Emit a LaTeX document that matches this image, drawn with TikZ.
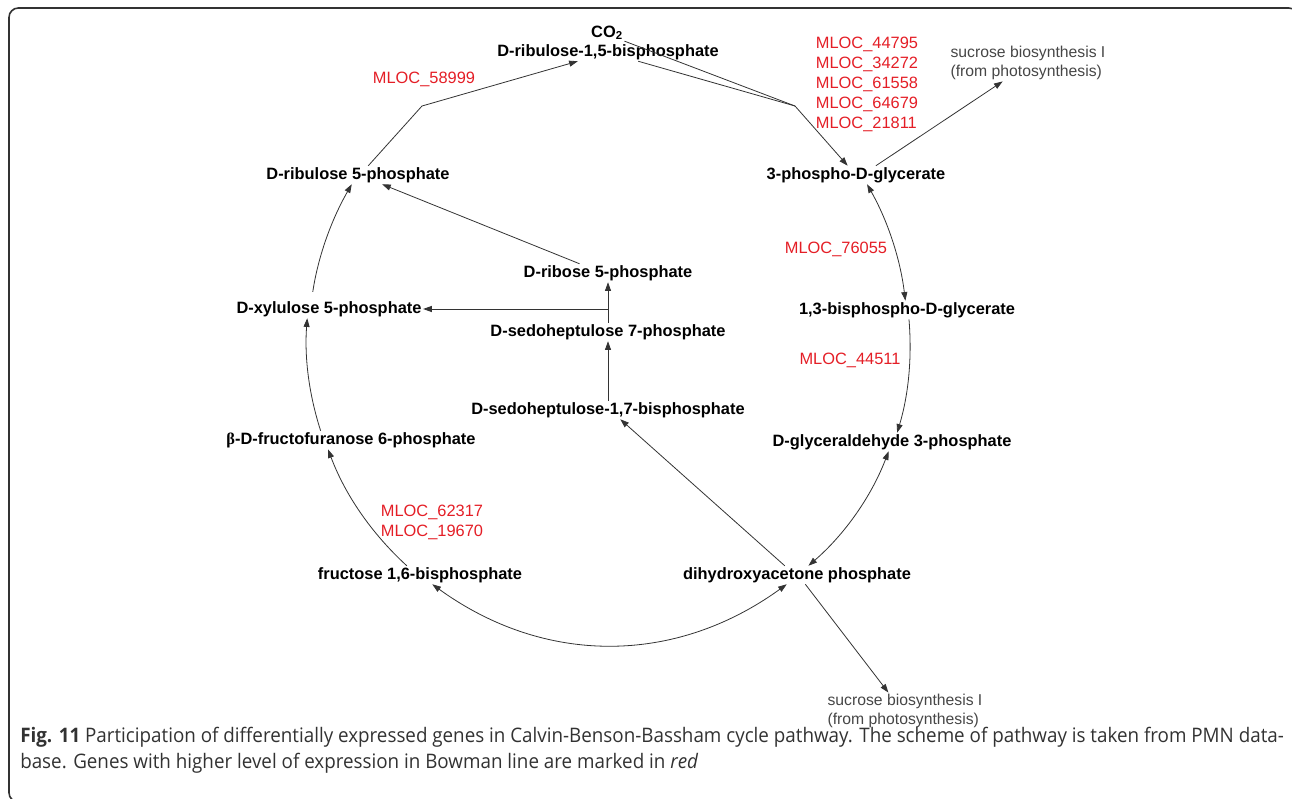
\documentclass[tikz,border=0pt]{standalone}
\usepackage{fontspec}
\setmainfont{Liberation Sans}
\newfontfamily\capfont[FakeStretch=0.94]{Open Sans}
\newfontfamily\grkfont{Liberation Serif}
\usetikzlibrary{arrows.meta,calc}
\definecolor{genered}{RGB}{228,30,38}
\definecolor{sidegray}{RGB}{70,70,70}
\definecolor{capgray}{RGB}{50,50,50}
\tikzset{
  metab/.style={font=\bfseries\fontsize{12.3}{14}\selectfont, inner sep=1pt},
  gene/.style={text=genered, font=\fontsize{12.3}{15}\selectfont, inner sep=1pt, align=left},
  side/.style={text=sidegray, font=\fontsize{11.8}{14.25}\selectfont, inner sep=1pt, align=left},
  capline/.style={text=capgray, font=\capfont\fontsize{15}{19.5}\selectfont, inner sep=0pt, anchor=base west},
  flow/.style={draw=black!80, line width=0.6pt},
  cyc/.style={flow, bend left=#1, looseness=0.88},
  >={Triangle[length=6.5pt,width=4.5pt]}
}
\begin{document}
\begin{tikzpicture}[x=0.75pt, y=-0.75pt]
\useasboundingbox (0,0) rectangle (1292,799);
\draw[capgray, line width=1.2pt, rounded corners=7pt] (9,8) rectangle (1298,802);

% metabolites
\node[metab] (co2)   at (607,33)  {CO\textsubscript{2}};
\node[metab] (rubp)  at (608,52)  {D-ribulose-1,5-bisphosphate};
\node[metab] (ru5p)  at (358,175) {D-ribulose 5-phosphate};
\node[metab] (pga)   at (856,175) {3-phospho-D-glycerate};
\node[metab] (r5p)   at (608,273) {D-ribose 5-phosphate};
\node[metab] (xu5p)  at (329,309) {D-xylulose 5-phosphate};
\node[metab] (bpg)   at (907,310) {1,3-bisphospho-D-glycerate};
\node[metab] (s7p)   at (608,332) {D-sedoheptulose 7-phosphate};
\node[metab] (s17bp) at (608,410) {D-sedoheptulose-1,7-bisphosphate};
\node[metab] (gap)   at (892,442) {D-glyceraldehyde 3-phosphate};
\node[metab] (f6p)   at (351,440) {{\grkfont β}-D-fructofuranose 6-phosphate};
\node[metab] (fbp)   at (420,575) {fructose 1,6-bisphosphate};
\node[metab] (dhap)  at (797,575) {dihydroxyacetone phosphate};

% outgoing pathways
\node[side] (suc1) at (1028,63)  {sucrose biosynthesis I\\(from photosynthesis)};
\node[side] (suc2) at (905,711)  {sucrose biosynthesis I\\(from photosynthesis)};

% genes
\node[gene] (g1) at (424,79)  {MLOC\_58999};
\node[gene] (g2) at (867,84)  {MLOC\_44795\\MLOC\_34272\\MLOC\_61558\\MLOC\_64679\\MLOC\_21811};
\node[gene] (g3) at (836,249) {MLOC\_76055};
\node[gene] (g4) at (850,360) {MLOC\_44511};
\node[gene] (g5) at (432,522) {MLOC\_62317\\MLOC\_19670};

% reactions
\coordinate (kinkL) at (422,106);
\coordinate (kinkR) at (795,106);
\draw[flow,->] (ru5p.42) -- (kinkL) -- (rubp.-163);
\draw[flow] (co2.-25) -- (kinkR);
\draw[flow] (rubp.-17) -- (kinkR);
\draw[flow,->] (kinkR) -- (pga.132);
\draw[flow,->] (pga.25) -- (suc1.-144);
\draw[cyc=11.25,<->] (pga.-40) to (bpg.100);
\draw[cyc=10.7,->] (bpg.-78) to (gap.61);
\draw[cyc=14.1,<->] (gap.-110) to (dhap.39);
\draw[cyc=35.9,looseness=1,<->] (dhap.-138) to (fbp.-37);
\draw[cyc=13.4,->] (fbp.145) to (f6p.-158);
\draw[cyc=11,->] (f6p.163) to (xu5p.-157);
\draw[cyc=10.75,->,shorten <=6pt] (xu5p.152) to (ru5p.-124);
\draw[flow,->] (dhap.143) -- (s17bp.-37);
\draw[flow,->] (dhap.-48) -- (suc2.132);
\draw[flow,->] (s17bp.north) -- (s7p.south);
\draw[flow,->] (s7p.north) -- (r5p.south);
\draw[flow,->] (s7p.north |- xu5p.east) -- (xu5p.east);
\draw[flow,->] (r5p.162) -- (ru5p.-21);

% caption
\node[capline] (capA) at (20,742) {\textbf{Fig. 11} Participation of differentially expressed genes in Calvin-Benson-Bassham cycle pathway. The scheme of pathway is taken from PMN data-};
\node[capline] (capB) at (20,768) {base. Genes with higher level of expression in Bowman line are marked in \textit{red}};
\end{tikzpicture}
\end{document}
